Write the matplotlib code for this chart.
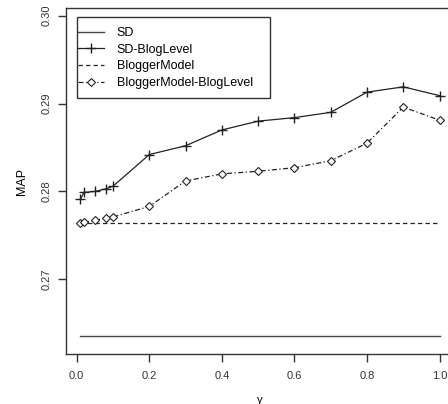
import matplotlib
matplotlib.use("Agg")
import matplotlib.pyplot as plt
from matplotlib.patches import Rectangle

gamma = [0.01, 0.02, 0.05, 0.08, 0.1, 0.2, 0.3, 0.4, 0.5, 0.6, 0.7, 0.8, 0.9, 1.0]
sd = [0.2636] * len(gamma)
sd_bloglevel = [0.2791, 0.2799, 0.2800, 0.2803, 0.2806, 0.2842, 0.2852, 0.2870,
                0.2880, 0.2884, 0.2890, 0.2913, 0.2919, 0.2909]
blogger = [0.2764] * len(gamma)
blogger_bloglevel = [0.2764, 0.2765, 0.2767, 0.2770, 0.2771, 0.2783, 0.2812, 0.2820,
                     0.2823, 0.2827, 0.2835, 0.2855, 0.2896, 0.2881]
labels = ["SD", "SD-BlogLevel", "BloggerModel", "BloggerModel-BlogLevel"]
xticks = [0.0, 0.2, 0.4, 0.6, 0.8, 1.0]
yticks = [0.27, 0.28, 0.29, 0.30]
ytick_labels = ["0.27", "0.28", "0.29", "0.30"]

plt.rcParams['font.family'] = ['Liberation Sans', 'DejaVu Sans']

W, H = 448, 404
fig = plt.figure(figsize=(W / 100, H / 100), dpi=100)
ax = fig.add_axes([66 / W, (H - 354) / H, (454 - 66) / W, (354 - 8) / H])

lc = "#222222"
h1, = ax.plot(gamma, sd, color="#444444", lw=1.0, ls="-")
h2, = ax.plot(gamma, sd_bloglevel, color=lc, lw=0.9, ls="-", marker="+",
              markersize=7, markeredgewidth=1.0)
h3, = ax.plot(gamma, blogger, color=lc, lw=0.9, ls=(0, (3.5, 2.5)))
h4, = ax.plot(gamma, blogger_bloglevel, color=lc, lw=0.9, ls=(0, (4, 2, 1, 2)),
              marker="D", markersize=4.3, markerfacecolor="white",
              markeredgecolor=lc, markeredgewidth=0.8)

ax.set_xlim(-0.0296, 1.0396)
ax.set_ylim(0.26151, 0.30087)
ax.set_xticks(xticks)
ax.set_xticklabels([f"{v:.1f}" for v in xticks])
ax.set_yticks(yticks)
ax.set_yticklabels(ytick_labels, rotation=90, va="center")
ax.tick_params(axis="both", direction="out", length=6, width=1.0, labelsize=8,
               colors="#333333")
ax.tick_params(axis="x", pad=6)
ax.tick_params(axis="y", pad=4)
for s in ax.spines.values():
    s.set_color("#333333")
    s.set_linewidth(1.0)

ax.set_ylabel("MAP", fontsize=9, labelpad=10)
ax.set_xlabel("γ", fontsize=8, labelpad=10)

leg = ax.legend([h1, h2, h3, h4], labels, loc="upper left",
                bbox_to_anchor=(78 / W, 1 - 27 / H), bbox_transform=fig.transFigure,
                frameon=False, fontsize=9, handlelength=2.1, handletextpad=1.0,
                labelspacing=0.38, borderpad=0.0, borderaxespad=0.0)

fig.patches.append(Rectangle((77.3 / W, 1 - 98.3 / H), (269.7 - 77.3) / W, (98.3 - 17.3) / H,
                             transform=fig.transFigure, fill=False,
                             edgecolor="#333333", linewidth=1.0, zorder=5))

fig.savefig("out.png", dpi=100)
